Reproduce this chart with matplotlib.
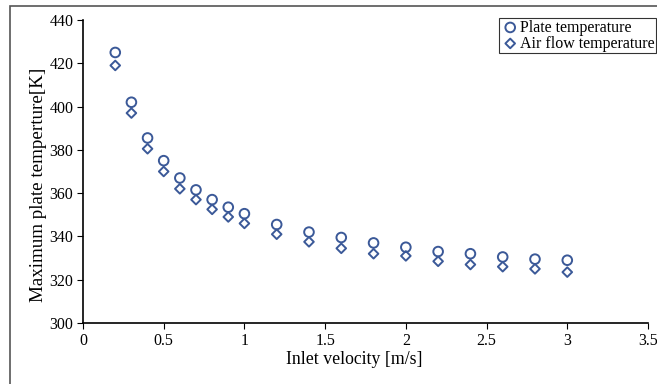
import matplotlib.pyplot as plt
from matplotlib.patches import Rectangle

velocity = [0.2, 0.3, 0.4, 0.5, 0.6, 0.7, 0.8, 0.9, 1.0, 1.2, 1.4, 1.6, 1.8, 2.0, 2.2, 2.4, 2.6, 2.8, 3.0]
plate_temp = [425, 402, 385.5, 375, 367, 361.5, 357, 353.5, 350.5, 345.5, 342, 339.5, 337, 335, 333, 332, 330.5, 329.5, 329]
air_temp = [419, 397, 380.5, 370, 362, 357, 352.5, 349, 346, 341, 337.5, 334.5, 332, 331, 328.5, 327, 326, 325, 323.5]
xticks = [0, 0.5, 1, 1.5, 2, 2.5, 3, 3.5]
xtick_labels = ["0", "0.5", "1", "1.5", "2", "2.5", "3", "3.5"]

plt.rcParams['font.family'] = ['Liberation Serif', 'DejaVu Serif']
color = "#3b5998"

fig = plt.figure(figsize=(6.57, 3.84), dpi=100)
ax = fig.add_axes([0.1263, 0.1589, 0.86, 0.789])

ax.scatter(velocity, plate_temp, marker="o", s=48, facecolors="none",
           edgecolors=color, linewidths=1.4, label="Plate temperature")
ax.scatter(velocity, air_temp, marker="D", s=24, facecolors="none",
           edgecolors=color, linewidths=1.4, label="Air flow temperature")

ax.set_xlim(0, 3.5)
ax.set_ylim(300, 440)
ax.set_xticks(xticks)
ax.set_xticklabels(xtick_labels)
ax.set_yticks(range(300, 441, 20))
ax.tick_params(labelsize=11.5, length=4, width=0.8, pad=3)
ax.spines["top"].set_visible(False)
ax.spines["right"].set_visible(False)
ax.spines["left"].set_linewidth(1.2)
ax.spines["bottom"].set_linewidth(1.2)

ax.set_xlabel("Inlet velocity [m/s]", fontsize=12.8)
ax.set_ylabel("Maximum plate temperture[K]", fontsize=13.7)
ax.xaxis.set_label_coords(0.4796, -0.092)
ax.yaxis.set_label_coords(-0.064, 0.455)

leg = ax.legend(loc="upper right", bbox_to_anchor=(1.0142, 1.0065), fontsize=11.5,
                frameon=True, fancybox=False, handletextpad=0.0, borderpad=0.1,
                labelspacing=0.0, handlelength=1.2, borderaxespad=0)
leg.get_frame().set_edgecolor("black")
leg.get_frame().set_linewidth(0.8)

fig.patches.append(Rectangle((10 / 657, -0.1), 1.2, 1 - 6 / 384 + 0.1,
                             transform=fig.transFigure, fill=False,
                             edgecolor="#555555", linewidth=1.2))

fig.savefig("out.png", dpi=100)
